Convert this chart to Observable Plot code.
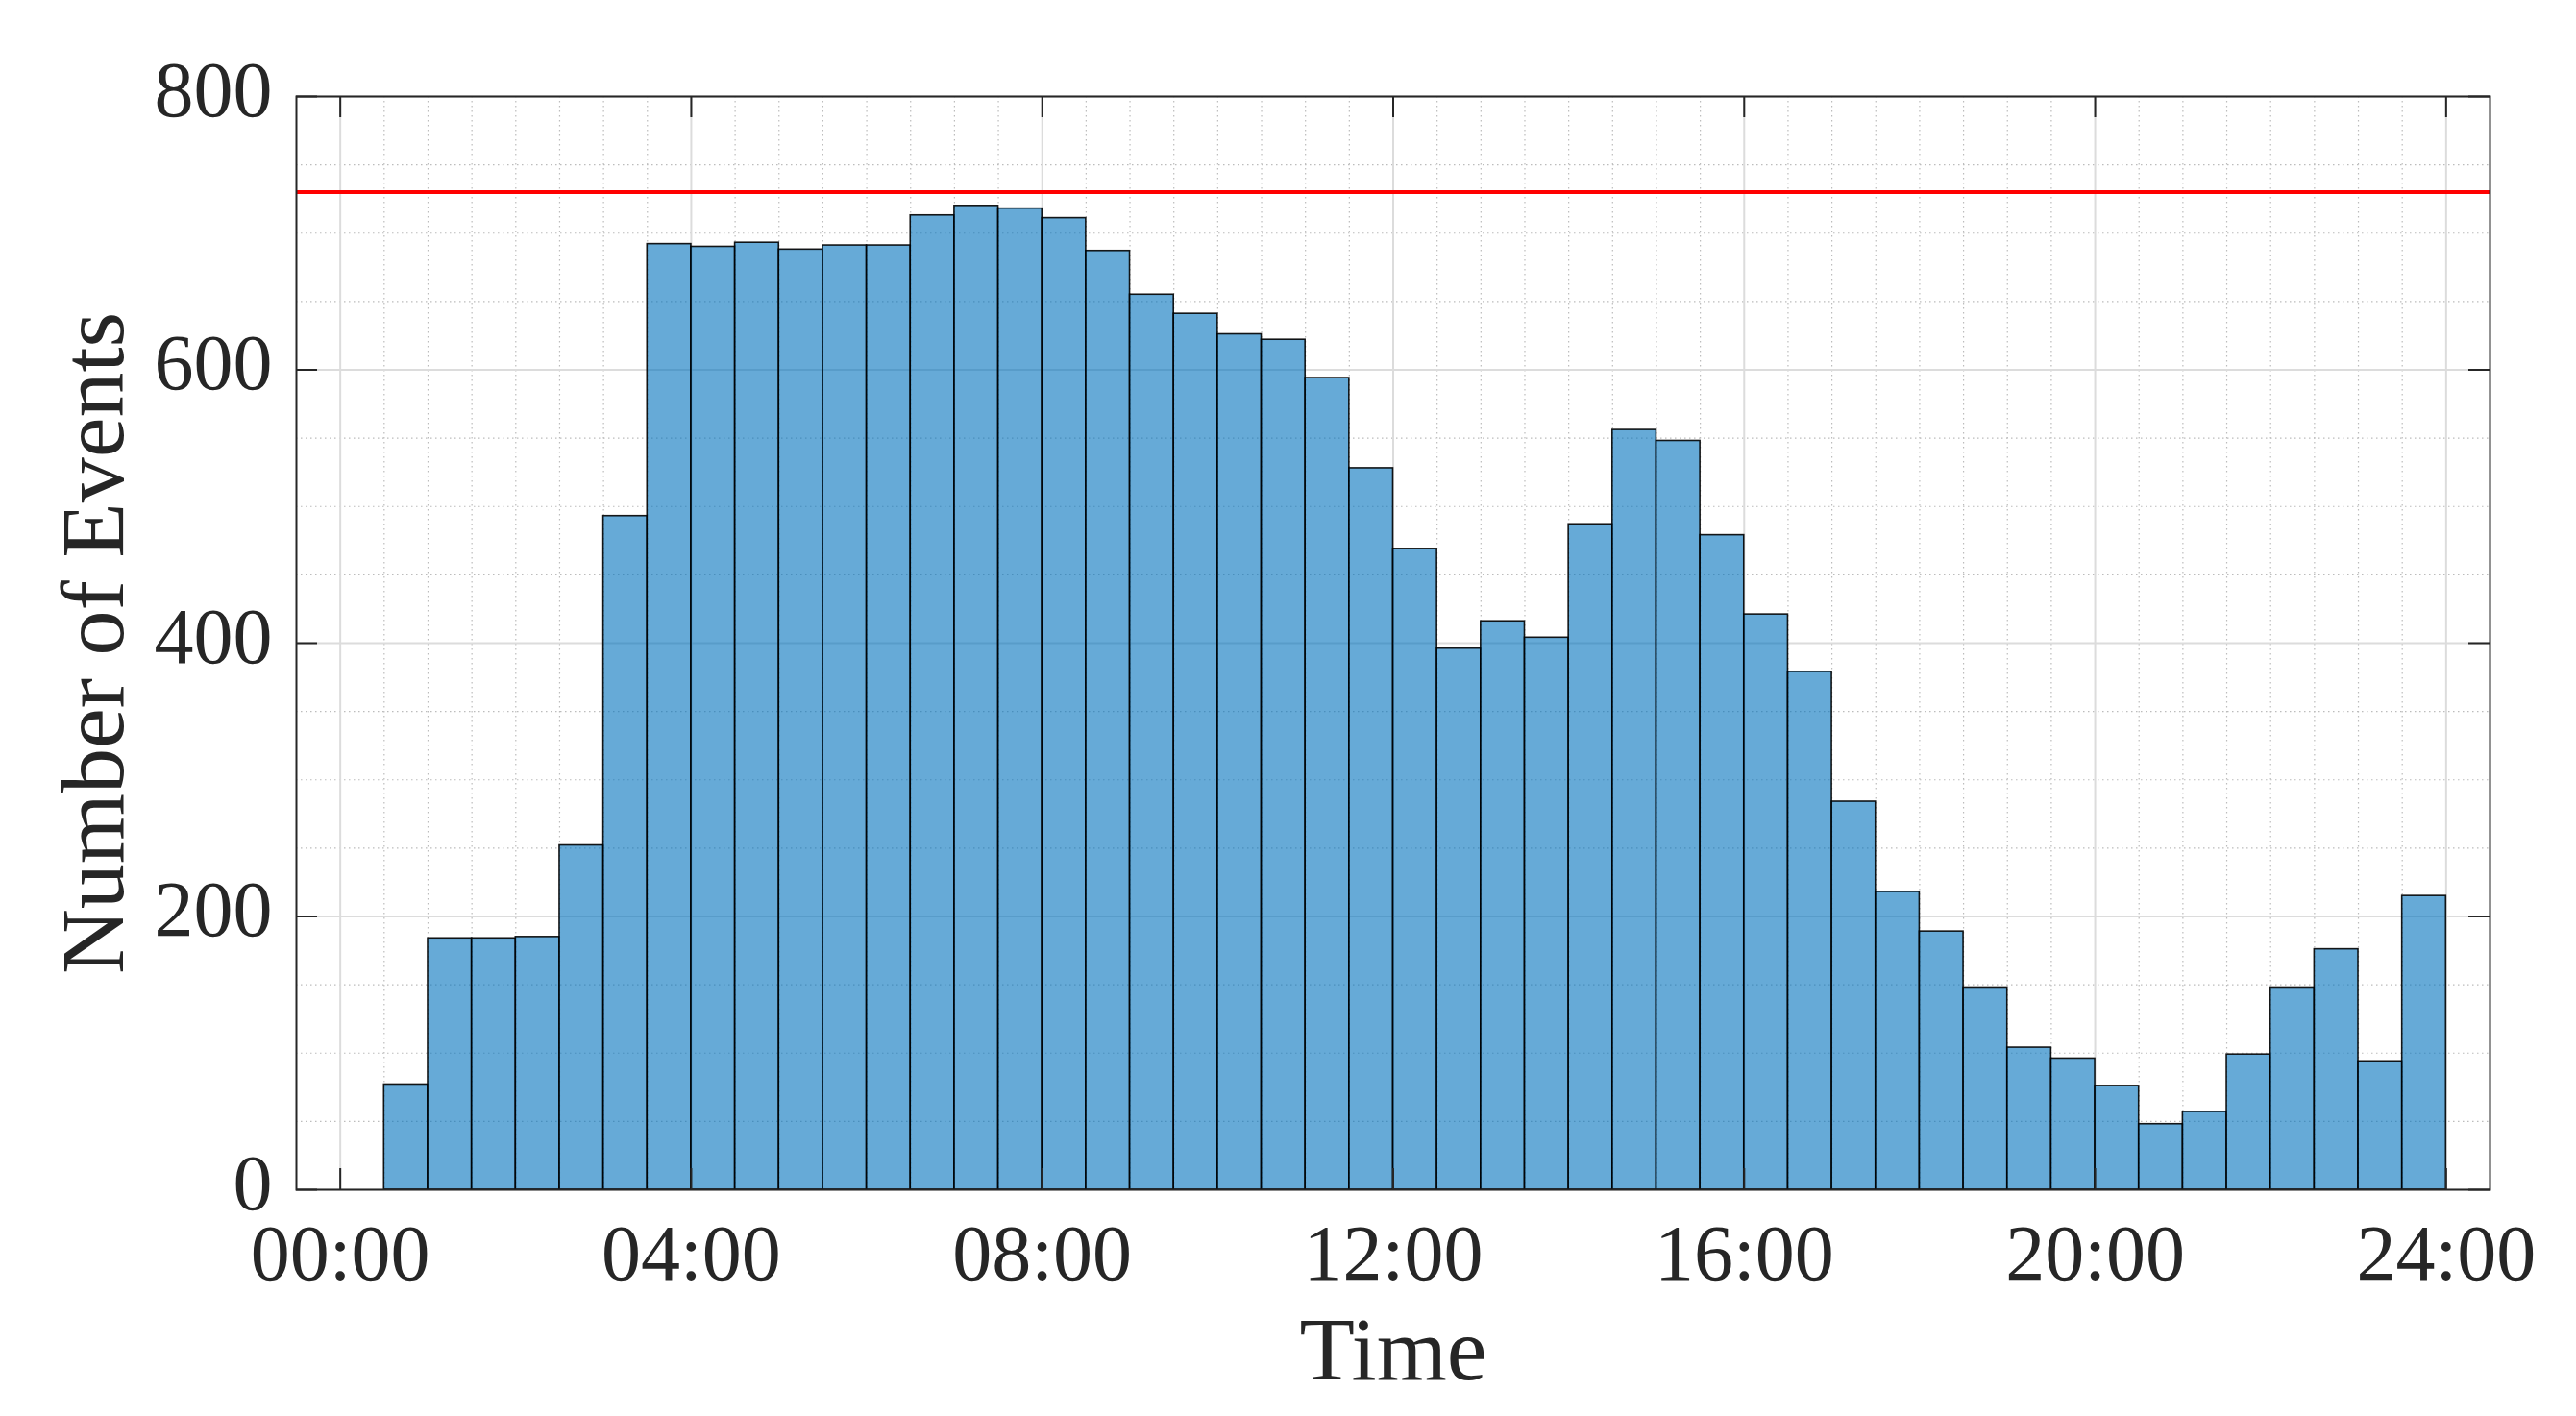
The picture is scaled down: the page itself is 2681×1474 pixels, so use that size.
<!DOCTYPE html>
<html>
<head>
<meta charset="utf-8">
<script src="https://cdn.jsdelivr.net/npm/d3@7"></script>
<script src="https://cdn.jsdelivr.net/npm/@observablehq/plot@0.6"></script>
<style>
  html, body { margin: 0; padding: 0; background: #ffffff; }
  #chart { width: 2681px; height: 1474px; }
</style>
</head>
<body>
<div id="chart"></div>
<script>
// ---- Data ----
// Start of each 30‑minute bin, in hours after midnight
const binStarts = [
  0.5, 1.0, 1.5, 2.0, 2.5, 3.0, 3.5, 4.0, 4.5, 5.0, 5.5, 6.0,
  6.5, 7.0, 7.5, 8.0, 8.5, 9.0, 9.5, 10.0, 10.5, 11.0, 11.5, 12.0,
  12.5, 13.0, 13.5, 14.0, 14.5, 15.0, 15.5, 16.0, 16.5, 17.0, 17.5, 18.0,
  18.5, 19.0, 19.5, 20.0, 20.5, 21.0, 21.5, 22.0, 22.5, 23.0, 23.5
];
const binWidth = 0.5;
// Number of events per bin
const eventCounts = [
  77, 184, 184, 185, 252, 493, 692, 690, 693, 688, 691, 691,
  713, 720, 718, 711, 687, 655, 641, 626, 622, 594, 528, 469,
  396, 416, 404, 487, 556, 548, 479, 421, 379, 284, 218, 189,
  148, 104, 96, 76, 48, 57, 99, 148, 176, 94, 215
];
// Red reference level
const thresholdLevel = [730];

// Axis ticks
const xTickHours = [0, 4, 8, 12, 16, 20, 24];
const xTickLabels = ["00:00", "04:00", "08:00", "12:00", "16:00", "20:00", "24:00"];
const xMinorHours = [0.5, 1, 1.5, 2, 2.5, 3, 3.5, 4.5, 5, 5.5, 6, 6.5, 7, 7.5, 8.5, 9, 9.5, 10, 10.5, 11, 11.5,
  12.5, 13, 13.5, 14, 14.5, 15, 15.5, 16.5, 17, 17.5, 18, 18.5, 19, 19.5, 20.5, 21, 21.5, 22, 22.5, 23, 23.5];
const yTicks = [0, 200, 400, 600, 800];
const yMinor = [50, 100, 150, 250, 300, 350, 450, 500, 550, 650, 700, 750];

const xLabel = "Time";
const yLabel = "Number of Events";

// ---- Table for the library ----
const bins = binStarts.map((s, i) => ({start: s, end: s + binWidth, count: eventCounts[i]}));

// ---- Layout ----
const W = 2681, H = 1474;
const mLeft = 308, mRight = 90, mTop = 100, mBottom = 236;
const plotW = W - mLeft - mRight;
const plotH = H - mTop - mBottom;
const tickLen = 22;
const axisColor = "#262626";

const chart = Plot.plot({
  width: W,
  height: H,
  marginLeft: mLeft,
  marginRight: mRight,
  marginTop: mTop,
  marginBottom: mBottom,
  style: {
    fontFamily: "'Liberation Serif', 'DejaVu Serif', serif",
    fontSize: "82px",
    color: axisColor,
    background: "#ffffff"
  },
  x: {domain: [-0.5, 24.5], axis: null},
  y: {domain: [0, 800], axis: null},
  marks: [
    // minor grid
    Plot.ruleX(xMinorHours, {x: d => d, stroke: "#bcbcbc", strokeWidth: 1.2, strokeDasharray: "1.5,3.5"}),
    Plot.ruleY(yMinor, {y: d => d, stroke: "#bcbcbc", strokeWidth: 1.2, strokeDasharray: "1.5,3.5"}),
    // major grid
    Plot.ruleX(xTickHours, {x: d => d, stroke: "#dcdcdc", strokeWidth: 2}),
    Plot.ruleY(yTicks, {y: d => d, stroke: "#dcdcdc", strokeWidth: 2}),
    // histogram bars
    Plot.rectY(bins, {
      x1: "start", x2: "end", y: "count",
      fill: "#0072BD", fillOpacity: 0.6,
      stroke: "#000000", strokeWidth: 1.6, strokeOpacity: 0.9
    }),
    // red reference line
    Plot.ruleY(thresholdLevel, {y: d => d, stroke: "#ff0000", strokeWidth: 4}),
    // inward ticks
    Plot.tickX(xTickHours, {x: d => d, insetTop: plotH - tickLen, stroke: axisColor, strokeWidth: 2}),
    Plot.tickX(xTickHours, {x: d => d, insetBottom: plotH - tickLen, stroke: axisColor, strokeWidth: 2}),
    Plot.tickY(yTicks, {y: d => d, insetRight: plotW - tickLen, stroke: axisColor, strokeWidth: 2}),
    Plot.tickY(yTicks, {y: d => d, insetLeft: plotW - tickLen, stroke: axisColor, strokeWidth: 2}),
    // box
    Plot.frame({stroke: axisColor, strokeWidth: 2}),
    // tick labels
    Plot.axisX({
      anchor: "bottom", ticks: xTickHours, tickSize: 0, tickPadding: 35,
      tickFormat: d => xTickLabels[xTickHours.indexOf(d)],
      fontSize: 82, label: null, fill: axisColor
    }),
    Plot.axisY({
      anchor: "left", ticks: yTicks, tickSize: 0, tickPadding: 25, dy: -6,
      fontSize: 82, label: null, fill: axisColor
    }),
    // axis titles
    Plot.text([xLabel], {
      frameAnchor: "bottom", lineAnchor: "bottom", textAnchor: "middle", dy: 197,
      fontSize: 94, fill: axisColor, text: d => d
    }),
    Plot.text([yLabel], {
      frameAnchor: "left", lineAnchor: "bottom", textAnchor: "middle", rotate: -90, dx: -181,
      fontSize: 94, fill: axisColor, text: d => d
    })
  ]
});

document.getElementById("chart").appendChild(chart);
</script>
</body>
</html>
